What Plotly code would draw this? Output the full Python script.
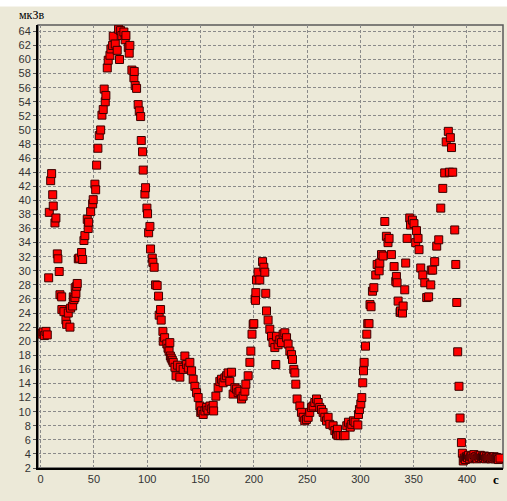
import plotly.graph_objects as go

time_s = [
    0.3, 1.5, 2.4, 3.5, 5.0, 6.2, 7.5, 8.1, 9.4, 10.3, 11.3, 11.8, 13.4, 14.3, 15.6, 16.2, 17.4, 18.1,
    19.7, 19.9, 21.8, 23.7, 24.4, 25.9, 27.5, 28.1, 30.0, 30.6, 31.2, 32.2, 32.4, 33.1, 33.8, 34.3,
    35.3, 36.2, 38.4, 39.4, 40.6, 41.5, 43.7, 44.6, 45.0, 46.9, 48.8, 49.3, 50.9, 51.6, 52.5, 53.7,
    55.0, 56.3, 57.5, 58.7, 59.6, 60.6, 61.2, 62.5, 63.4, 65.0, 65.9, 67.5, 68.1, 70.0, 71.8, 73.1,
    74.0, 75.0, 76.2, 78.1, 79.3, 80.0, 82.2, 83.1, 83.7, 85.6, 87.5, 87.8, 88.7, 90.0, 91.5, 92.5,
    93.8, 94.4, 95.6, 96.2, 97.8, 98.4, 99.7, 100.3, 101.3, 102.5, 103.1, 104.7, 105.3, 106.5, 107.8,
    109.3, 110.6, 111.2, 112.5, 113.1, 114.7, 115.0, 116.3, 118.4, 119.5, 120.5, 121.2, 121.7, 122.5,
    123.5, 124.4, 126.0, 127.0, 128.5, 130.6, 131.0, 133.7, 135.3, 136.9, 138.5, 140.0, 141.6, 143.1,
    144.7, 146.3, 147.8, 149.4, 150.2, 151.0, 152.5, 154.1, 155.7, 157.0, 158.8, 160.5, 161.9, 162.3,
    164.4, 166.5, 168.1, 169.7, 171.2, 172.8, 174.4, 175.9, 177.5, 179.1, 180.6, 182.2, 183.8, 185.3,
    186.9, 188.5, 190.0, 191.6, 192.5, 194.7, 196.3, 197.2, 198.3, 199.4, 200.0, 201.2, 201.6, 201.9,
    202.5, 204.0, 205.6, 208.2, 209.4, 210.3, 211.2, 211.9, 213.4, 215.0, 216.6, 218.0, 219.7, 220.6,
    221.3, 222.8, 224.4, 226.0, 227.5, 229.1, 230.7, 232.2, 233.8, 235.4, 236.3, 237.5, 238.5, 239.4,
    240.6, 243.2, 244.7, 246.3, 247.8, 249.4, 251.0, 252.5, 254.1, 255.6, 257.2, 258.8, 260.4, 261.9,
    263.5, 265.0, 266.6, 268.2, 269.7, 271.3, 274.4, 276.0, 277.6, 278.5, 279.1, 281.0, 284.1, 285.6,
    287.2, 288.8, 290.5, 291.9, 293.5, 295.0, 297.6, 298.2, 299.1, 300.4, 301.3, 302.2, 302.9, 303.5,
    304.8, 306.0, 306.9, 308.1, 309.0, 310.0, 311.3, 312.6, 314.4, 315.7, 317.6, 318.2, 319.8, 321.3,
    322.9, 324.4, 325.9, 326.9, 329.1, 331.6, 333.2, 333.8, 334.4, 335.4, 337.2, 337.6, 339.5, 340.1,
    341.6, 342.5, 343.8, 346.3, 347.0, 348.8, 350.3, 351.9, 352.6, 354.1, 355.0, 356.6, 358.5, 360.4,
    362.2, 364.0, 366.0, 366.5, 367.8, 369.7, 371.6, 373.5, 375.4, 377.3, 379.1, 380.5, 382.5, 384.4,
    385.5, 383.5, 386.6, 388.5, 389.5, 390.4, 391.3, 392.5, 393.5, 394.8, 395.7, 396.5, 397.5, 398.5,
    399.5, 400.5, 401.5, 402.5, 403.5, 404.5, 405.5, 406.5, 407.5, 408.5, 409.5, 410.5, 411.5, 412.5,
    413.5, 414.5, 415.5, 416.5, 417.5, 418.5, 419.5, 420.5, 421.5, 422.5, 423.5, 424.5, 425.5, 426.5,
    427.5, 428.5, 429.5, 431.0,
]

dose_usv = [
    21.1, 21.0, 21.3, 20.8, 21.4, 20.9, 29.0, 38.3, 42.8, 43.8, 40.8, 39.2, 36.8, 37.5, 32.4, 31.7, 29.9, 26.6,
    26.3, 24.5, 24.2, 23.0, 22.4, 24.0, 22.0, 24.7, 25.0, 26.3, 25.9, 26.2, 27.6, 26.8, 27.8, 28.2,
    31.7, 31.8, 32.6, 31.6, 34.3, 35.0, 37.3, 36.0, 36.9, 38.4, 39.5, 40.1, 42.3, 41.5, 45.0, 47.4,
    49.2, 50.0, 52.1, 52.9, 55.8, 54.0, 54.9, 58.8, 59.9, 60.6, 61.5, 62.0, 63.3, 62.2, 61.3, 64.3,
    60.0, 64.1, 63.4, 63.9, 62.8, 63.4, 61.7, 60.9, 62.0, 58.5, 57.4, 58.3, 56.3, 55.9, 53.6, 52.7,
    51.9, 48.5, 46.9, 44.3, 40.9, 41.8, 38.9, 38.1, 35.4, 36.3, 33.1, 31.8, 31.2, 30.5, 28.0,
    27.9, 26.4, 23.7, 24.5, 23.0, 21.4, 20.0, 20.5, 19.6, 19.0, 18.6, 19.8, 17.9, 17.6,
    17.3, 17.0, 16.3, 15.1, 16.6, 14.9, 16.3, 16.0, 17.9, 16.7, 16.2, 17.0, 15.8, 14.6,
    13.6, 12.7, 12.0, 10.8, 9.9, 10.1, 9.6, 10.1, 10.6, 10.2, 10.8, 10.4, 10.9, 10.1,
    12.2, 13.4, 14.3, 14.6, 14.1, 14.8, 15.1, 15.5, 14.3, 15.6, 12.5, 13.4, 13.2, 12.7,
    12.9, 11.8, 12.2, 12.9, 13.9, 15.1, 17.0, 18.6, 21.0, 22.4, 22.5, 26.0, 25.8, 26.9,
    28.7, 29.8, 28.7, 31.3, 30.5, 29.8, 26.8, 24.3, 23.0, 21.7, 20.7, 19.8, 19.1, 16.7,
    20.7, 19.5, 20.2, 19.8, 21.0, 21.2, 20.5, 19.6, 18.6, 18.1, 17.4, 16.0, 15.5, 13.9,
    11.8, 10.8, 9.9, 9.2, 8.7, 8.9, 9.2, 9.9, 10.6, 10.8, 11.3, 11.8, 11.3, 10.6,
    10.3, 9.9, 9.2, 8.7, 9.2, 8.2, 8.0, 7.3, 6.8, 7.5, 6.6, 6.6, 6.6, 6.6,
    8.0, 8.5, 7.8, 8.2, 8.7, 8.5, 8.1, 9.6, 10.3, 11.1, 12.0, 14.1, 15.8, 17.0,
    19.3, 21.0, 22.5, 22.5, 25.2, 24.9, 27.1, 27.6, 29.4, 30.9, 30.0, 31.1, 32.3, 32.1,
    37.0, 34.9, 34.0, 34.6, 32.3, 30.6, 28.5, 29.2, 28.3, 25.7, 24.1, 24.3, 24.0, 25.0,
    27.3, 31.1, 34.6, 37.5, 36.5, 37.2, 36.7, 34.0, 35.7, 34.6, 33.0, 30.4, 29.4, 28.3,
    26.2, 26.3, 28.0, 30.1, 30.1, 31.3, 33.5, 34.4, 38.9, 41.7, 43.9, 48.3, 49.8, 48.9,
    47.5, 44.0, 44.0, 35.8, 30.9, 25.5, 18.5, 13.6, 9.1, 5.6, 4.1, 3.0, 3.4, 3.2,
    3.6, 3.5, 3.8, 3.3, 3.6, 3.7, 3.4, 3.9, 3.5, 3.6, 3.3, 3.7, 3.5, 3.8,
    3.4, 3.6, 3.5, 3.7, 3.3, 3.6, 3.4, 3.5, 3.6, 3.3, 3.5, 3.4, 3.6, 3.3,
    3.5, 3.4, 3.2, 3.4,
]

x_ticks = [0, 50, 100, 150, 200, 250, 300, 350, 400]
y_ticks = list(range(2, 65, 2))
y_unit = "мкЗв"
x_unit = "c"

BG = "#ECE9D8"
fig = go.Figure()
fig.add_trace(go.Scatter(
    x=time_s, y=dose_usv, mode="markers",
    marker=dict(symbol="square", size=8, color="#FF0000",
                line=dict(color="#3a0000", width=1)),
    hoverinfo="x+y", showlegend=False,
))

grid = dict(showgrid=True, gridcolor="#8a8a8a", gridwidth=1, griddash="3px,2px", zeroline=False)
fig.update_xaxes(range=[-2.5, 433.8], tickvals=x_ticks, showline=True, linecolor="#000000",
                 linewidth=2, ticks="", automargin=False,
                 tickfont=dict(family="Liberation Sans", size=11, color="#333333"), **grid)
fig.update_yaxes(range=[2, 64.9], tickvals=y_ticks, showline=True, linecolor="#000000",
                 linewidth=2, ticks="outside", ticklen=3, tickcolor="#555555", automargin=False,
                 tickfont=dict(family="Liberation Sans", size=11, color="#333333"), **grid)

fig.add_shape(type="rect", xref="paper", yref="paper", x0=0, x1=1, y0=0, y1=1,
              line=dict(color="#5a5a5a", width=1.5), layer="below")
fig.add_shape(type="rect", xref="paper", yref="paper", x0=-0.2, x1=1.1, y0=1.042, y1=1.2,
              line=dict(width=0), fillcolor="#FFFFFF", layer="below")

fig.add_annotation(text=y_unit, xref="paper", yref="paper", x=-0.015, y=1.022,
                   xanchor="center", yanchor="middle", showarrow=False,
                   font=dict(family="Liberation Serif", size=12, color="#000000"))
fig.add_annotation(text="<b>" + x_unit + "</b>", xref="paper", yref="paper", x=0.985, y=-0.027,
                   xanchor="center", yanchor="middle", showarrow=False,
                   font=dict(family="Liberation Serif", size=13, color="#000000"))

fig.update_layout(width=507, height=501, margin=dict(l=38, r=4, t=25, b=33),
                  paper_bgcolor=BG, plot_bgcolor=BG)
fig.write_html("out.html", config={"displayModeBar": False},
               post_script="document.body.style.margin='0px';")
